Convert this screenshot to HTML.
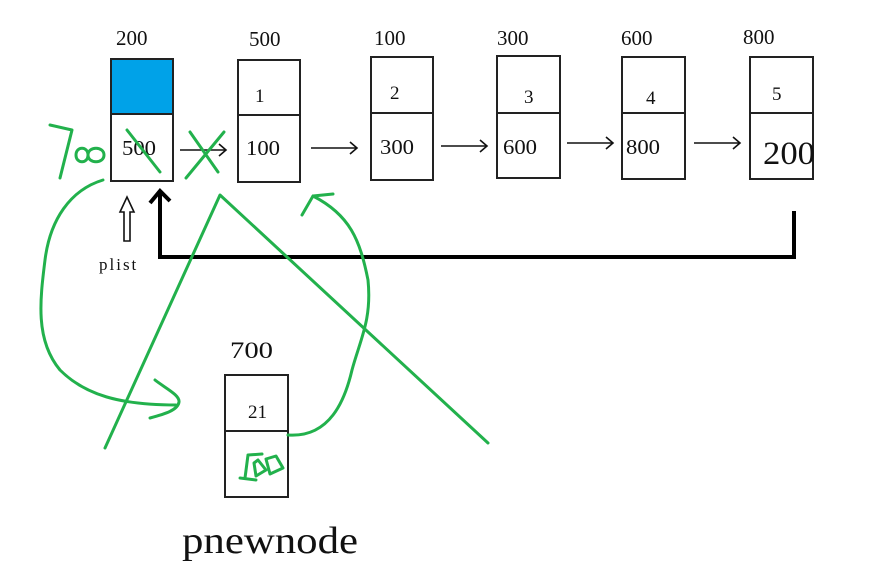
<!DOCTYPE html>
<html><head><meta charset="utf-8"><style>
html,body{margin:0;padding:0;background:#fff;width:869px;height:584px;overflow:hidden}
svg{display:block}
text{font-family:"Liberation Serif",serif;fill:#111}
</style></head><body>
<svg width="869" height="584" viewBox="0 0 869 584" xmlns="http://www.w3.org/2000/svg">
<g stroke="#222" stroke-width="2" fill="none">
<rect x="111" y="59" width="62" height="55" fill="#00a2e8"/>
<rect x="111" y="59" width="62" height="122"/><line x1="111" y1="114" x2="173" y2="114"/>
<rect x="238" y="60" width="62" height="122"/><line x1="238" y1="115" x2="300" y2="115"/>
<rect x="371" y="57" width="62" height="123"/><line x1="371" y1="113" x2="433" y2="113"/>
<rect x="497" y="56" width="63" height="122"/><line x1="497" y1="113" x2="560" y2="113"/>
<rect x="622" y="57" width="63" height="122"/><line x1="622" y1="113" x2="685" y2="113"/>
<rect x="750" y="57" width="63" height="122"/><line x1="750" y1="113" x2="813" y2="113"/>
<rect x="225" y="375" width="63" height="122"/><line x1="225" y1="431" x2="288" y2="431"/>
</g>
<g stroke="#111" stroke-width="1.6" fill="none">
<path d="M180 150H226M219 144L226 150L219 156"/>
<path d="M311 148H357M350 142L357 148L350 154"/>
<path d="M441 146H487M480 140L487 146L480 152"/>
<path d="M567 143H613M606 137L613 143L606 149"/>
<path d="M694 143H740M733 137L740 143L733 149"/>
<path d="M124 241V212H120L127 197L134 212H130V241Z"/>
</g>
<path d="M794 211V257H160V192M150 203L160 191L170 201" stroke="#000" stroke-width="4" fill="none"/>
<g font-size="21">
<text x="116" y="45">200</text><text x="249" y="46">500</text><text x="374" y="45">100</text>
<text x="497" y="45">300</text><text x="621" y="45">600</text><text x="743" y="44">800</text>
<text x="255" y="102" font-size="19">1</text><text x="390" y="99" font-size="19">2</text>
<text x="524" y="103" font-size="19">3</text><text x="646" y="104" font-size="19">4</text>
<text x="772" y="100" font-size="19">5</text>
<text x="122" y="155" textLength="34" lengthAdjust="spacingAndGlyphs">500</text><text x="246" y="155" textLength="34" lengthAdjust="spacingAndGlyphs">100</text><text x="380" y="154" textLength="34" lengthAdjust="spacingAndGlyphs">300</text>
<text x="503" y="154" textLength="34" lengthAdjust="spacingAndGlyphs">600</text><text x="626" y="154" textLength="34" lengthAdjust="spacingAndGlyphs">800</text>
<text x="763" y="164" font-size="33" textLength="52" lengthAdjust="spacingAndGlyphs">200</text>
<text x="230" y="358" font-size="23" textLength="43" lengthAdjust="spacingAndGlyphs">700</text>
<text x="248" y="418" font-size="19">21</text>
<text x="99" y="270" font-size="17" letter-spacing="2">plist</text>
<text x="182" y="553" font-size="38" textLength="176" lengthAdjust="spacingAndGlyphs">pnewnode</text>
</g>
<g stroke="#22b14c" stroke-width="3" fill="none" stroke-linecap="round" stroke-linejoin="round">
<path d="M105 448L220 195L488 443"/>
<path d="M103 180C70 190 50 220 45 260C40 300 35 340 60 370C85 395 120 405 176 405"/>
<path d="M155 380C165 388 180 395 179 402C178 410 165 414 150 418"/>
<path d="M288 435C330 438 345 400 352 370C360 340 372 320 368 280C360 240 350 215 313 196"/>
<path d="M302 215L313 196L333 194"/>
<path d="M50 125L72 130L60 178"/>
<path d="M76 155C76 146 88 146 88 155C88 164 76 164 76 155Z"/>
<path d="M88 155C88 146 104 146 104 155C104 164 88 164 88 155Z"/>
<path d="M127 130L160 172"/>
<path d="M186 178L224 132M190 132L218 172"/>
<path d="M248 455L245 478M240 478L256 480M248 455L262 454M254 463L256 476L266 470L258 460Z"/>
<path d="M266 459L270 474L283 468L276 456Z"/>
</g>
</svg>
</body></html>
